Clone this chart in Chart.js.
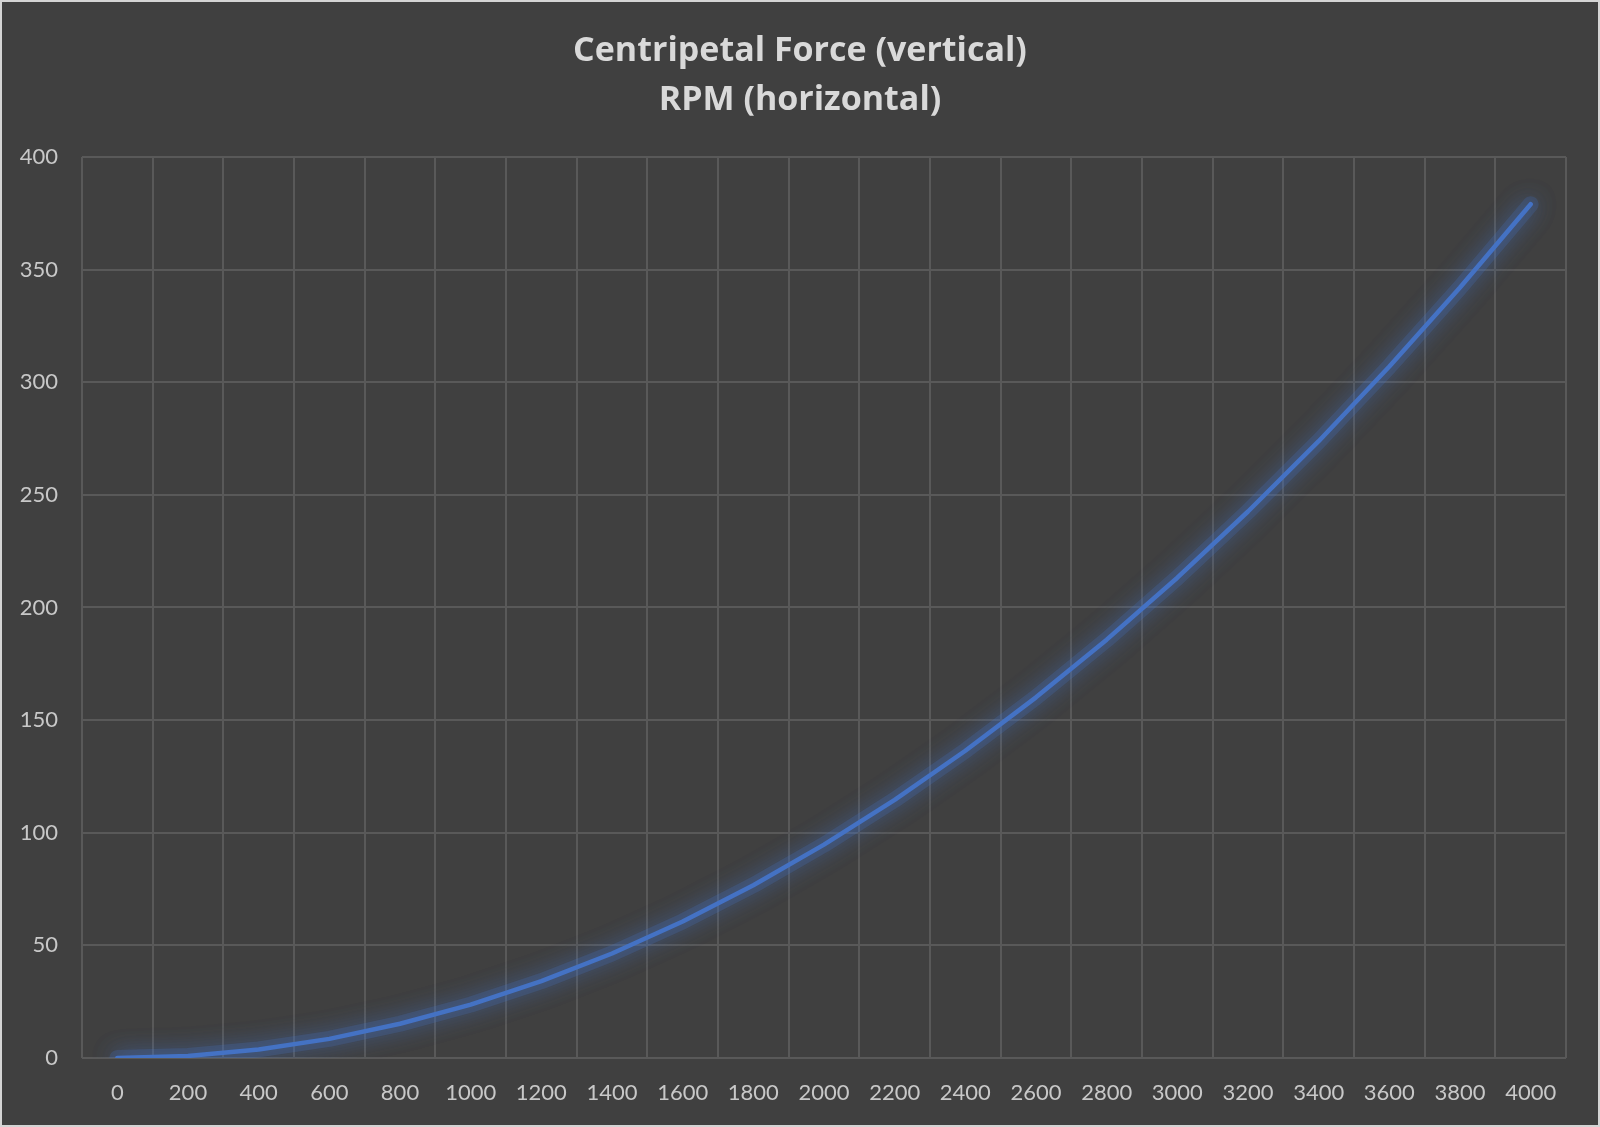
<!DOCTYPE html>
<html>
<head>
<meta charset="utf-8">
<script src="https://cdn.jsdelivr.net/npm/chart.js@4.4.1/dist/chart.umd.min.js"></script>
<style>
  html, body { margin: 0; padding: 0; background: #404040; }
  #wrap { width: 1600px; height: 1127px; position: relative; }
</style>
</head>
<body>
<div id="wrap"><canvas id="chart" width="1600" height="1127"></canvas></div>
<script>
// RPM categories and centripetal force
const rpmLabels = ["0", "200", "400", "600", "800", "1000", "1200", "1400", "1600", "1800", "2000",
  "2200", "2400", "2600", "2800", "3000", "3200", "3400", "3600", "3800", "4000"];
const forceValues = [0, 0.9, 3.8, 8.5, 15.2, 23.7, 34.1, 46.4, 60.6, 76.7, 94.7,
  114.6, 136.4, 160.1, 185.7, 213.2, 242.6, 273.8, 307.0, 342.0, 379.0];
const titleLines = ["Centripetal Force (vertical)", "RPM (horizontal)"];

// fondo y borde exterior
const frame = {
  id: "frame",
  beforeDraw(chart) {
    const ctx = chart.ctx;
    ctx.save();
    ctx.fillStyle = "#404040";
    ctx.fillRect(0, 0, chart.width, chart.height);
    ctx.strokeStyle = "#d4d4d4";
    ctx.lineWidth = 4;
    ctx.strokeRect(0, 0, chart.width, chart.height);
    ctx.restore();
  }
};

// brillo alrededor de la línea
const glow = {
  id: "glow",
  beforeDatasetDraw(chart) {
    const ctx = chart.ctx;
    ctx.save();
    ctx.shadowColor = "rgba(68, 114, 196, 0.9)";
    ctx.shadowBlur = 22;
  },
  afterDatasetDraw(chart) {
    chart.ctx.restore();
  }
};

new Chart(document.getElementById("chart"), {
  type: "line",
  data: {
    labels: rpmLabels,
    datasets: [
      {
        data: forceValues,
        borderColor: "#4472c4",
        borderWidth: 4.5,
        pointRadius: 0,
        tension: 0,
        borderCapStyle: "round",
        borderJoinStyle: "round",
        fill: false,
        order: 0
      },
      {
        // halo suave debajo de la línea
        data: forceValues,
        borderColor: "rgba(68, 114, 196, 0.22)",
        borderWidth: 16,
        pointRadius: 0,
        tension: 0,
        borderCapStyle: "round",
        borderJoinStyle: "round",
        fill: false,
        order: 1
      }
    ]
  },
  options: {
    responsive: false,
    animation: false,
    devicePixelRatio: 1,
    layout: { padding: 0 },
    plugins: {
      legend: { display: false },
      tooltip: { enabled: false },
      title: {
        display: true,
        text: titleLines,
        color: "#d9d9d9",
        font: { family: "'Open Sans', Lato, sans-serif", size: 34, weight: "bold", lineHeight: 1.44 },
        padding: { top: 27, bottom: 32 }
      }
    },
    scales: {
      x: {
        type: "category",
        offset: true,
        grid: { offset: true, color: "#595959", lineWidth: 2, drawTicks: false },
        border: { display: false },
        ticks: {
          color: "#c8c8c8",
          padding: 22,
          maxRotation: 0,
          autoSkip: false,
          font: { family: "Lato, 'Open Sans', sans-serif", size: 22 }
        },
        // espacio a la derecha del área sin mover el título
        afterFit(scale) { scale.height = 69; scale.paddingRight = 34; }
      },
      y: {
        min: 0,
        max: 400,
        grid: { color: "#595959", lineWidth: 2, drawTicks: false },
        border: { display: false },
        ticks: {
          stepSize: 50,
          color: "#c8c8c8",
          padding: 24,
          font: { family: "Lato, 'Open Sans', sans-serif", size: 22 }
        },
        afterFit(scale) { scale.width = 82; }
      }
    }
  },
  plugins: [frame, glow]
});
</script>
</body>
</html>
